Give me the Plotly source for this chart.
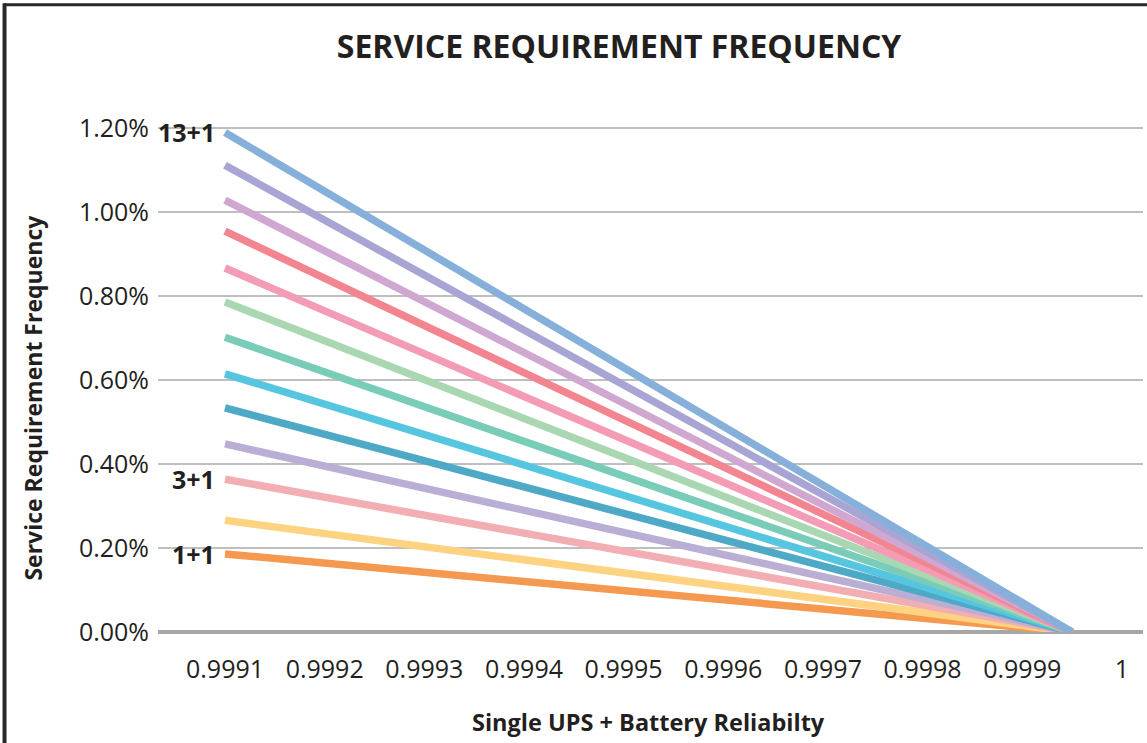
import plotly.graph_objects as go

# ---- data ----
configs = ["1+1", "2+1", "3+1", "4+1", "5+1", "6+1", "7+1",
           "8+1", "9+1", "10+1", "11+1", "12+1", "13+1"]
start_values = [0.186, 0.266, 0.364, 0.448, 0.534, 0.615, 0.702,
                0.786, 0.867, 0.955, 1.029, 1.112, 1.190]   # % at 0.9991
end_values = [0, 0, 0, 0, 0, 0, 0, 0, 0, 0, 0, 0, 0]       # % at convergence
reliability = [0.9991, 0.99995]
tick_vals = [0.9991, 0.9992, 0.9993, 0.9994, 0.9995, 0.9996, 0.9997, 0.9998, 0.9999, 1.0]
tick_text = ["0.9991", "0.9992", "0.9993", "0.9994", "0.9995", "0.9996",
             "0.9997", "0.9998", "0.9999", "1"]
y_ticks = [0, 0.2, 0.4, 0.6, 0.8, 1.0, 1.2]
y_tick_text = ["0.00%", "0.20%", "0.40%", "0.60%", "0.80%", "1.00%", "1.20%"]
labelled = ["13+1", "3+1", "1+1"]

colors = ["#F59850", "#FDD382", "#F2AEB2", "#BBAED4", "#4EA9C7", "#55C5E0",
          "#79CCB8", "#A9D7B2", "#F49BB6", "#F38590", "#CFA7D0", "#A8A5D5", "#86B0DA"]

TEXT = "#231f20"
FONT = "Open Sans"

fig = go.Figure()
for name, s, e, c in zip(configs, start_values, end_values, colors):
    fig.add_trace(go.Scatter(
        x=reliability, y=[s, e], mode="lines", name=name,
        line=dict(color=c, width=7.5), showlegend=False,
        hovertemplate=name + ": %{y:.2f}%<extra></extra>",
    ))

annotations = []
for name in labelled:
    i = configs.index(name)
    annotations.append(dict(
        x=reliability[0], y=start_values[i], xref="x", yref="y",
        text="<b>" + name + "</b>", showarrow=False,
        xanchor="right", yanchor="middle", xshift=-8,
        font=dict(family=FONT, size=25, color=TEXT),
    ))

annotations.append(dict(
    x=-0.127, y=0.464, xref="paper", yref="paper",
    text="<b>Service Requirement Frequency</b>", textangle=-90,
    showarrow=False, xanchor="center", yanchor="middle",
    font=dict(family=FONT, size=23, color=TEXT),
))
annotations.append(dict(
    x=0.4975, y=-0.178, xref="paper", yref="paper",
    text="<b>Single UPS + Battery Reliabilty</b>",
    showarrow=False, xanchor="center", yanchor="middle",
    font=dict(family=FONT, size=23.5, color=TEXT),
))

shapes = [
    dict(type="line", xref="paper", yref="paper", x0=-0.1563, x1=1.01,
         y0=1.2421, y1=1.2421, line=dict(color="#2a2a2a", width=3)),
    dict(type="line", xref="paper", yref="paper", x0=-0.1558, x1=-0.1558,
         y0=1.245, y1=-0.23, line=dict(color="#2a2a2a", width=4)),
]

fig.update_layout(
    width=1147, height=743,
    margin=dict(l=158, r=4, t=127, b=111),
    paper_bgcolor="white", plot_bgcolor="white",
    title=dict(text="<b>SERVICE REQUIREMENT FREQUENCY</b>",
               x=0.5397, xanchor="center", y=0.9367, yanchor="middle",
               font=dict(family=FONT, size=32, color=TEXT)),
    xaxis=dict(range=[0.99903276, 1.00002122], tickvals=tick_vals, ticktext=tick_text,
               showgrid=False, zeroline=False, showline=False, ticks="",
               ticklabelstandoff=20,
               tickfont=dict(family=FONT, size=25, color=TEXT)),
    yaxis=dict(range=[0, 1.203], tickvals=y_ticks, ticktext=y_tick_text,
               showgrid=True, gridcolor="#bfbfbf", gridwidth=1.5,
               zeroline=True, zerolinecolor="#a6a6a6", zerolinewidth=4,
               showline=False, ticks="", ticklabelstandoff=8,
               tickfont=dict(family=FONT, size=25, color=TEXT)),
    annotations=annotations, shapes=shapes,
)

fig.write_html("out.html", config={"displayModeBar": False},
               post_script="document.body.style.margin='0';document.body.style.overflow='hidden';")
